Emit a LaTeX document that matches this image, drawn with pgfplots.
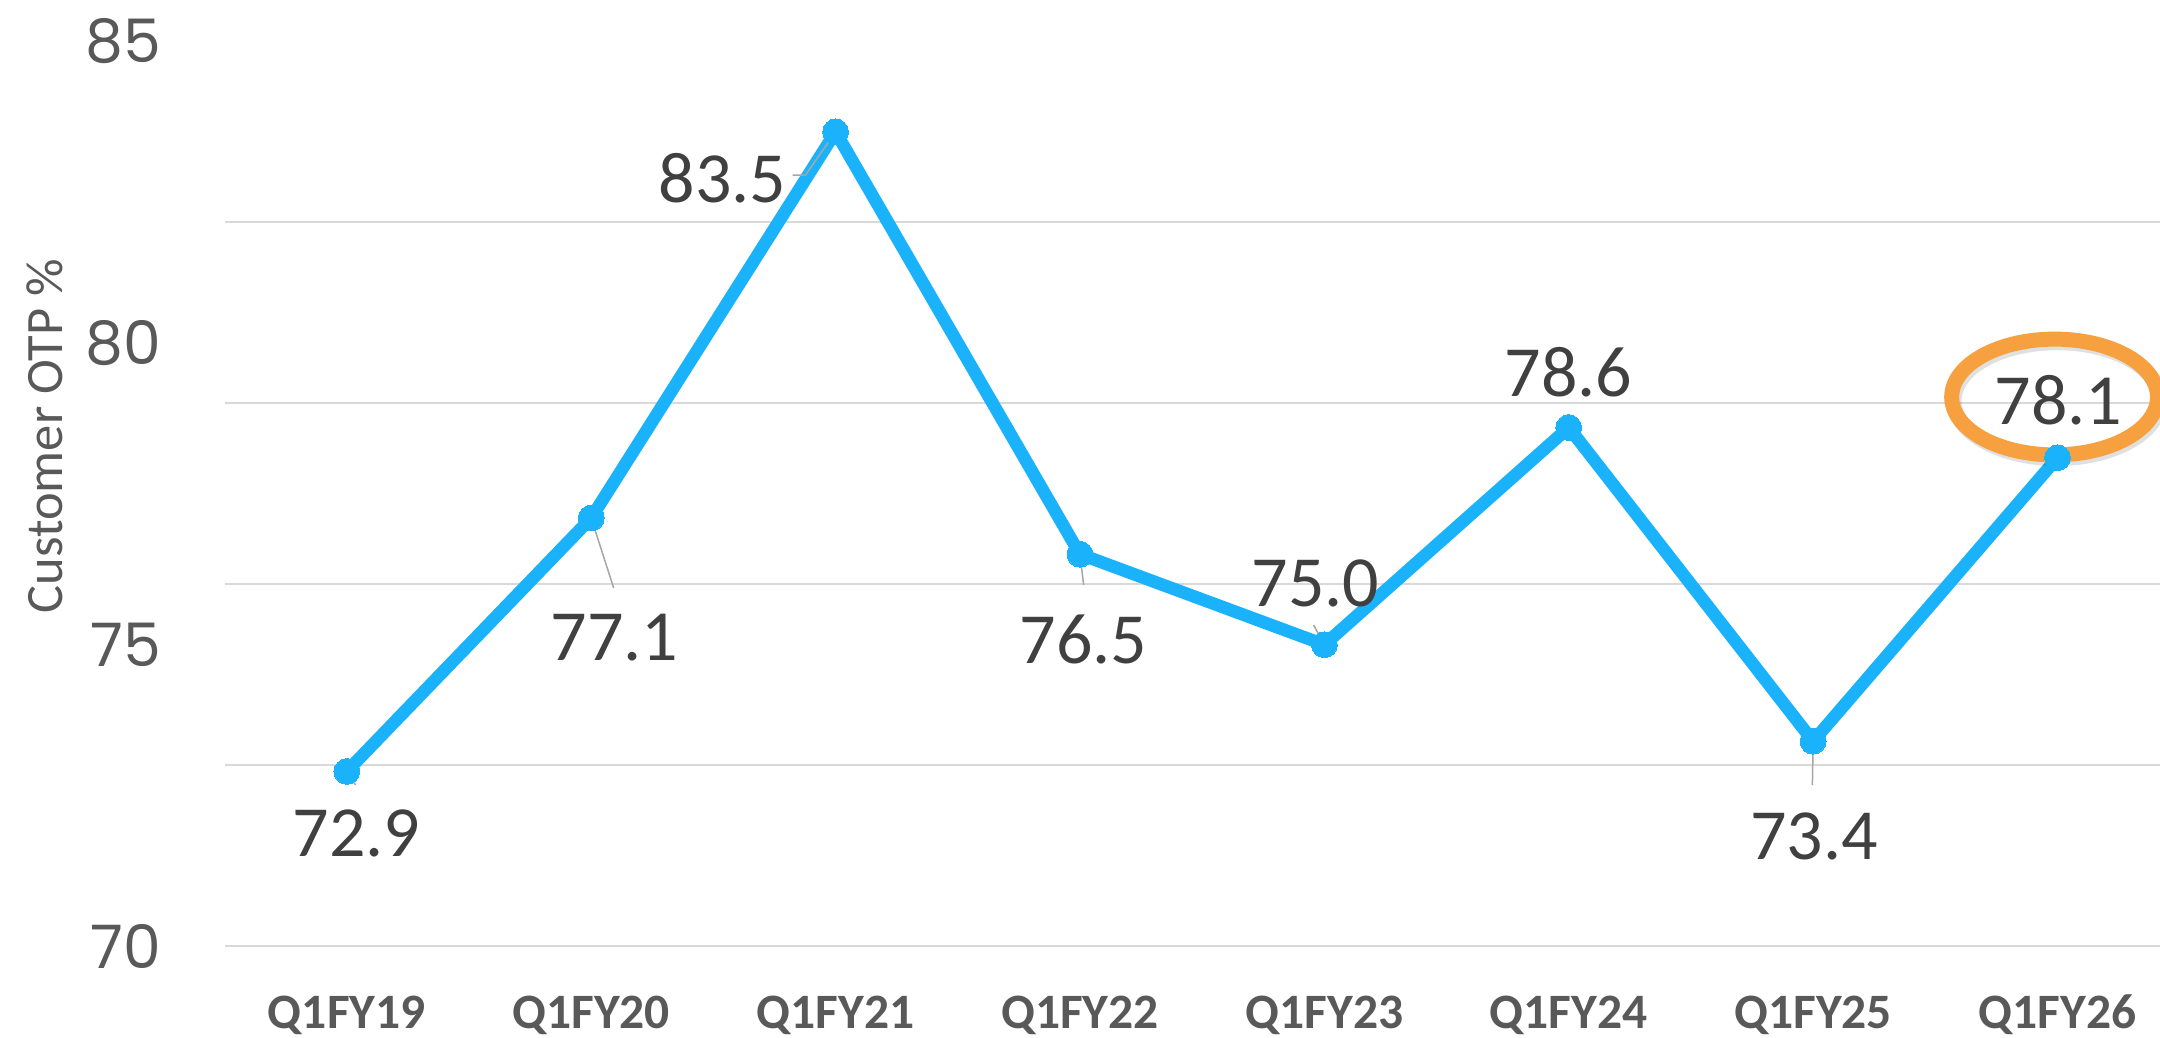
\documentclass[border=0pt]{standalone}
\usepackage{fontspec}
\setmainfont{Carlito}
\newfontfamily\poppins{Poppins}
\usepackage{pgfplots}
\pgfplotsset{compat=1.18}
\definecolor{lineblue}{RGB}{27,178,252}
\definecolor{txtgray}{RGB}{89,89,89}
\definecolor{lblgray}{RGB}{64,64,64}
\definecolor{gridgray}{RGB}{217,217,217}
\definecolor{leadgray}{RGB}{166,166,166}
\definecolor{ringorange}{RGB}{247,160,63}
\begin{document}
\begin{tikzpicture}
\path[use as bounding box] (0,0) rectangle (720pt,345.67pt);
\clip (0,0) rectangle (720pt,345.67pt);
\begin{axis}[
  at={(74.87pt,30.2pt)}, anchor=south west,
  scale only axis, width=651.7pt, height=301.7pt,
  xmin=-0.5, xmax=7.5, ymin=70, ymax=85,
  clip=false,
  axis line style={draw=none},
  major tick length=0pt,
  tick style={draw=none},
  /pgf/number format/assume math mode=true,
  xtick={0,1,2,3,4,5,6,7},
  xticklabels={Q1FY19,Q1FY20,Q1FY21,Q1FY22,Q1FY23,Q1FY24,Q1FY25,Q1FY26},
  xticklabel style={font=\bfseries\fontsize{16.5}{20}\selectfont, text=txtgray, anchor=base, inner sep=0pt, yshift=-27.3pt},
  ytick={70,75,80,85},
  yticklabel style={font=\poppins\fontsize{20}{24}\selectfont, text=txtgray, anchor=east, inner sep=0pt, xshift=-20.9pt},
  extra y ticks={70,73,76,79,82},
  extra y tick labels={},
  extra y tick style={grid=major, major grid style={draw=gridgray, line width=0.7pt}},
  ylabel={Customer OTP \%},
  ylabel style={at={(axis description cs:-0.0919,0.5635)}, anchor=center, font=\fontsize{17.5}{21}\selectfont, text=txtgray, inner sep=0pt},
]
\addplot[lineblue, line width=4.2pt, line join=round, mark=*, mark size=4.3pt,
  mark options={fill=lineblue, draw=lineblue, line width=0pt}]
  coordinates {(0,72.9)(1,77.1)(2,83.5)(3,76.5)(4,75.0)(5,78.6)(6,73.4)(7,78.1)};
% leader lines
\draw[leadgray, line width=0.5pt] (axis cs:0,72.9) -- (axis cs:0.036,72.675);
\draw[leadgray, line width=0.5pt] (axis cs:1,77.1) -- (axis cs:1.092,75.940);
\draw[leadgray, line width=0.5pt] (axis cs:1.824,82.784) -- (axis cs:1.877,82.784) -- (axis cs:2,83.5);
\draw[leadgray, line width=0.5pt] (axis cs:3,76.5) -- (axis cs:3.015,75.990);
\draw[leadgray, line width=0.5pt] (axis cs:3.956,75.326) -- (axis cs:4,75.0);
\draw[leadgray, line width=0.5pt] (axis cs:6,73.4) -- (axis cs:5.997,72.675);
% data labels
\tikzset{dl/.style={font=\fontsize{24}{28}\selectfont, text=lblgray, inner sep=0pt, anchor=center}}
\node[dl] at (axis cs:0.040,71.871) {72.9};
\node[dl] at (axis cs:1.096,75.119) {77.1};
\node[dl] at (axis cs:1.537,82.726) {83.5};
\node[dl] at (axis cs:3.015,75.094) {76.5};
\node[dl] at (axis cs:3.964,76.014) {75.0};
\node[dl] at (axis cs:4.999,79.519) {78.6};
\node[dl] at (axis cs:6.004,71.830) {73.4};
% highlight ring
\draw[black, opacity=0.12, line width=5pt] ([xshift=0.8pt,yshift=-1.2pt]axis cs:6.988,79.105) ellipse [x radius=34.3pt, y radius=19.3pt];
\draw[ringorange, line width=5pt] (axis cs:6.988,79.105) ellipse [x radius=34.3pt, y radius=19.3pt];
\node[dl] at (axis cs:7.004,79.055) {78.1};
\end{axis}
\end{tikzpicture}
\end{document}
